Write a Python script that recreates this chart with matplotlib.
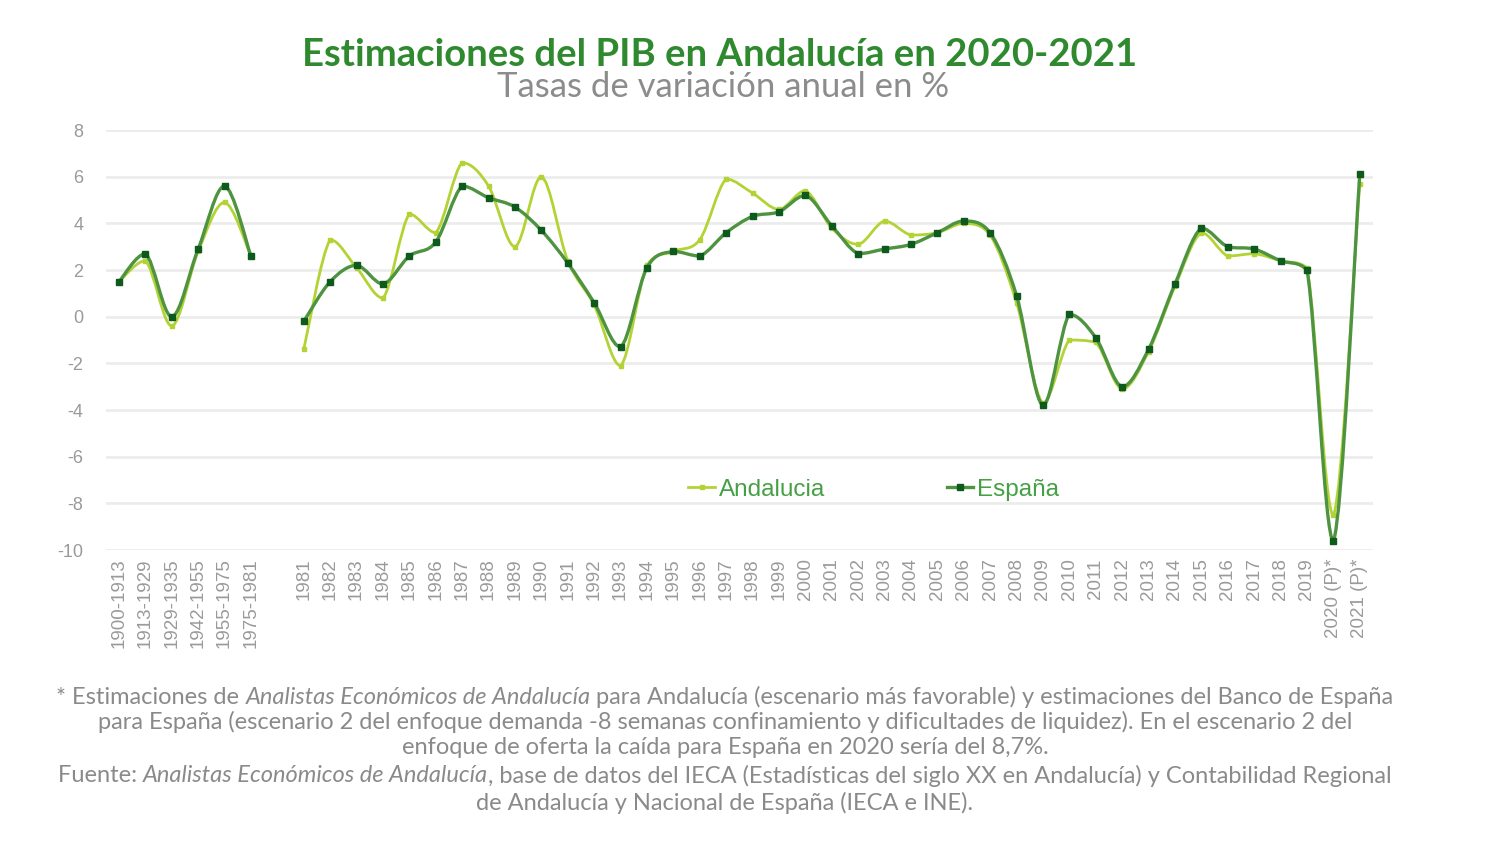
import numpy as np
import matplotlib
matplotlib.use('Agg')
import matplotlib.pyplot as plt
from matplotlib.path import Path
from matplotlib.patches import PathPatch
from matplotlib.lines import Line2D

plt.rcParams['axes.unicode_minus'] = False

# categories (blank slot separates historical periods from annual data)
periods = ['1900-1913', '1913-1929', '1929-1935', '1942-1955', '1955-1975', '1975-1981']
years = [str(y) for y in range(1981, 2020)] + ['2020 (P)*', '2021 (P)*']
categories = periods + [''] + years

andalucia_hist = [1.5, 2.4, -0.4, 2.8, 4.9, 2.6]
espana_hist = [1.5, 2.7, 0.0, 2.9, 5.6, 2.6]

andalucia_years = [-1.4, 3.3, 2.1, 0.8, 4.4, 3.6, 6.6, 5.6, 3.0, 6.0,
                   2.4, 0.5, -2.1, 2.2, 2.8, 3.3, 5.9, 5.3, 4.6, 5.4,
                   3.8, 3.1, 4.1, 3.5, 3.6, 4.0, 3.5, 0.6, -3.7, -1.0,
                   -1.1, -3.1, -1.5, 1.3, 3.6, 2.6, 2.7, 2.4, 2.1, -8.5, 5.7]
espana_years = [-0.2, 1.5, 2.2, 1.4, 2.6, 3.2, 5.6, 5.1, 4.7, 3.7,
                2.3, 0.6, -1.3, 2.1, 2.8, 2.6, 3.6, 4.3, 4.5, 5.2,
                3.9, 2.7, 2.9, 3.1, 3.6, 4.1, 3.6, 0.9, -3.8, 0.1,
                -0.9, -3.0, -1.4, 1.4, 3.8, 3.0, 2.9, 2.4, 2.0, -9.6, 6.1]

andalucia = andalucia_hist + [np.nan] + andalucia_years
espana = espana_hist + [np.nan] + espana_years

C_AND = '#b3d335'
C_ESP_LINE = '#4d9340'
C_ESP_MK = '#0d5a1c'
C_TXT = '#9a9a9a'

fig = plt.figure(figsize=(15, 8.44), dpi=100)
ax = fig.add_axes([0.0705, 0.3483, 0.8448, 0.4976])


def smooth_path(xs, ys):
    # smoothed line: catmull-rom beziers, control points kept within
    # each segment's vertical range so peaks don't overshoot
    pts = np.column_stack([xs, ys]).astype(float)
    n = len(pts)
    verts, codes = [tuple(pts[0])], [Path.MOVETO]
    for i in range(1, n):
        p0 = pts[max(i - 2, 0)]
        p1, p2 = pts[i - 1], pts[i]
        p3 = pts[min(i + 1, n - 1)]
        c1 = p1 + (p2 - p0) / 6
        c2 = p2 - (p3 - p1) / 6
        lo, hi = min(p1[1], p2[1]), max(p1[1], p2[1])
        c1[1] = np.clip(c1[1], lo, hi)
        c2[1] = np.clip(c2[1], lo, hi)
        verts += [tuple(c1), tuple(c2), tuple(p2)]
        codes += [Path.CURVE4] * 3
    return Path(verts, codes)


def draw_series(values, color, lw, z):
    x = np.arange(len(values))
    v = np.array(values, dtype=float)
    idx = np.where(~np.isnan(v))[0]
    groups = np.split(idx, np.where(np.diff(idx) > 1)[0] + 1)
    for g in groups:
        p = smooth_path(x[g], v[g])
        ax.add_patch(PathPatch(p, fill=False, edgecolor=color, lw=lw, zorder=z,
                               capstyle='round', joinstyle='round'))


draw_series(andalucia, C_AND, 2.0, 3)
ax.plot(np.arange(len(andalucia)), andalucia, ls='none', marker='s', ms=3,
        color=C_AND, zorder=3)
draw_series(espana, C_ESP_LINE, 2.4, 4)
ax.plot(np.arange(len(espana)), espana, ls='none', marker='s', ms=5,
        color=C_ESP_MK, zorder=5)

ax.set_xlim(-0.5, len(categories) - 0.5)
ax.set_ylim(-10, 8)
ax.set_yticks(range(-10, 9, 2))
ax.set_xticks(range(len(categories)))
ax.set_xticklabels(categories, rotation=90, fontsize=13.5, color=C_TXT, family='Liberation Sans')
ax.tick_params(axis='y', labelsize=13, labelcolor=C_TXT, length=0, pad=16)
ax.tick_params(axis='x', length=0, pad=6)
for lab in ax.get_yticklabels():
    lab.set_family('Liberation Sans')
ax.grid(axis='y', color='#ececec', lw=2)
ax.set_axisbelow(True)
for s in ax.spines.values():
    s.set_visible(False)

handles = [Line2D([], [], color=C_AND, lw=2, marker='s', ms=3),
           Line2D([], [], color=C_ESP_LINE, lw=2.4, marker='s', ms=5, mfc=C_ESP_MK, mec=C_ESP_MK)]
leg = ax.legend(handles, ['Andalucia', 'España'], ncol=2, frameon=False,
                loc='center', bbox_to_anchor=(0.606, 0.143),
                handlelength=1.1, handletextpad=0.15, columnspacing=5.0,
                prop={'family': 'Liberation Sans', 'size': 17.5})
for t in leg.get_texts():
    t.set_color('#45a045')

fig.text(0.48, 0.935, 'Estimaciones del PIB en Andalucía en 2020-2021', ha='center', va='center',
         fontsize=27.5, fontweight='bold', color='#2f8a2f', family='Lato')
fig.text(0.482, 0.897, 'Tasas de variación anual en %', ha='center', va='center',
         fontsize=25, color='#8c8c8c', family='Lato')

# footnote with italic pieces, each line centred
notes = [
    [('* Estimaciones de ', 'normal'), ('Analistas Económicos de Andalucía', 'italic'),
     (' para Andalucía (escenario más favorable) y estimaciones del Banco de España', 'normal')],
    [('para España (escenario 2 del enfoque demanda -8 semanas confinamiento y dificultades de liquidez). En el escenario 2 del', 'normal')],
    [('enfoque de oferta la caída para España en 2020 sería del 8,7%.', 'normal')],
    [('Fuente: ', 'normal'), ('Analistas Económicos de Andalucía', 'italic'),
     (', base de datos del IECA (Estadísticas del siglo XX en Andalucía) y Contabilidad Regional', 'normal')],
    [('de Andalucía y Nacional de España (IECA e INE).', 'normal')],
]
note_y = [697, 722, 748, 776, 803]
renderer = fig.canvas.get_renderer()
W, H = fig.bbox.width, fig.bbox.height
for pieces, ypx in zip(notes, note_y):
    texts = [fig.text(0, 1 - ypx / H, s, fontsize=17, style=st, color='#8a8a8a',
                      family='Lato', va='center', ha='left') for s, st in pieces]
    widths = [t.get_window_extent(renderer).width for t in texts]
    x0 = 725 - sum(widths) / 2
    for t, w in zip(texts, widths):
        t.set_x(x0 / W)
        x0 += w

fig.savefig('out.png', dpi=100, facecolor='white')
